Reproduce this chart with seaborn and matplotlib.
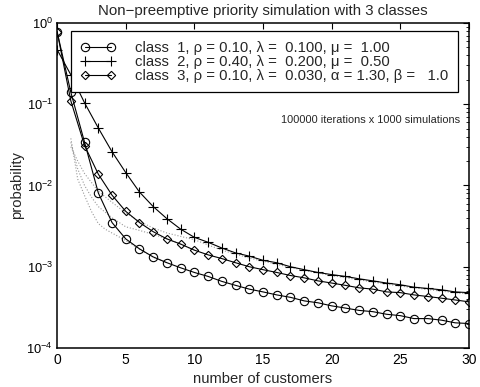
import numpy as np
import pandas as pd
import matplotlib
matplotlib.use("Agg")
import matplotlib.pyplot as plt
import seaborn as sns
from matplotlib.ticker import LogLocator, NullFormatter, FixedLocator

# ---- data ----
n = list(range(0, 31))
class1 = [0.78, 0.14, 0.034, 0.0081, 0.0035, 0.0022, 0.00166, 0.00132, 0.00112, 0.00097,
          0.00085, 0.00076, 0.00066, 0.00059, 0.00053, 0.00049, 0.00045, 0.00042, 0.00038,
          0.00036, 0.00033, 0.00031, 0.00029, 0.00028, 0.00026, 0.00025, 0.00023, 0.00023,
          0.00022, 0.000204, 0.0002]
class2 = [0.47, 0.23, 0.104, 0.051, 0.026, 0.0144, 0.0083, 0.0055, 0.0039, 0.0029,
          0.0023, 0.0020, 0.0017, 0.00148, 0.00135, 0.0012, 0.00112, 0.0010, 0.00092,
          0.00085, 0.00080, 0.00076, 0.00071, 0.00067, 0.00063, 0.00060, 0.00056, 0.00054,
          0.00052, 0.00049, 0.00048]
class3 = [0.78, 0.11, 0.031, 0.0138, 0.0076, 0.0048, 0.0035, 0.0027, 0.0022, 0.0019,
          0.0016, 0.0014, 0.00126, 0.00112, 0.0010, 0.00092, 0.00085, 0.00078, 0.00073,
          0.00067, 0.00063, 0.00059, 0.00055, 0.00053, 0.00049, 0.00048, 0.00045, 0.00043,
          0.00041, 0.00039, 0.00037]

# dotted approximation curves
d1_x = [1, 1.5, 2, 2.5, 3, 3.5, 4, 5, 6, 7, 8]
d1_y = [0.038, 0.012, 0.0075, 0.0048, 0.0034, 0.0029, 0.0026, 0.0021, 0.00164, 0.00131, 0.00112]
d2_x = [1, 1.5, 2, 2.5, 3, 4, 5, 6, 7, 8, 9, 10]
d2_y = [0.034, 0.016, 0.010, 0.0072, 0.0055, 0.0040, 0.0031, 0.0028, 0.0025, 0.0022, 0.0019, 0.0016]
d3_x = [1, 1.5, 2, 3, 4, 5, 6, 7, 8, 10, 12, 14, 16, 18, 20, 22, 24, 26, 28, 30]
d3_y = [0.030, 0.020, 0.014, 0.0085, 0.0062, 0.0046, 0.0036, 0.0030, 0.0026, 0.00215,
        0.0016, 0.00128, 0.00107, 0.00090, 0.00078, 0.00069, 0.00061, 0.00055, 0.00050, 0.00046]

labels = ["class  1, \u03c1 = 0.10, \u03bb =  0.100, \u03bc =  1.00",
          "class  2, \u03c1 = 0.40, \u03bb =  0.200, \u03bc =  0.50",
          "class  3, \u03c1 = 0.10, \u03bb =  0.030, \u03b1 = 1.30, \u03b2 =   1.0"]
title = "Non\u2212preemptive priority simulation with 3 classes"
note = "100000 iterations x 1000 simulations"
xlabel = "number of customers"
ylabel = "probability"
xticks = [0, 5, 10, 15, 20, 25, 30]

sns.set_style("white")
plt.rcParams['font.family'] = ['Liberation Sans', 'DejaVu Sans']
plt.rcParams['mathtext.fontset'] = 'custom'
plt.rcParams['mathtext.rm'] = 'Liberation Sans'

fig = plt.figure(figsize=(4.8, 3.87), dpi=100)
ax = fig.add_axes([0.119, 0.1008, 0.858, 0.8398])

for dx, dy in [(d1_x, d1_y), (d2_x, d2_y), (d3_x, d3_y)]:
    sns.lineplot(x=dx, y=dy, ax=ax, color='0.6', linestyle=':', linewidth=0.8, legend=False)

styles = [('o', 6, 'none'), ('+', 7, 'k'), ((4, 0, 0), 6, 'none')]
handles = []
for vals, (m, ms, fc), lab in zip([class1, class2, class3], styles, labels):
    sns.lineplot(x=n, y=vals, ax=ax, color='k', linewidth=0.8, marker=m, markersize=ms,
                 markerfacecolor=fc, markeredgecolor='k', markeredgewidth=0.8, legend=False)
    handles.append(ax.lines[-1])

ax.set_yscale('log')
ax.set_xlim(0, 30)
ax.set_ylim(1e-4, 1)
ax.xaxis.set_major_locator(FixedLocator(xticks))
ax.yaxis.set_major_locator(LogLocator(base=10, numticks=10))
ax.yaxis.set_minor_locator(LogLocator(base=10, subs=np.arange(2, 10), numticks=20))
ax.yaxis.set_minor_formatter(NullFormatter())
ax.tick_params(which='both', direction='in', top=True, right=True, colors='k')
ax.tick_params(axis='x', labelsize=10)
ax.tick_params(axis='y', labelsize=9.3, pad=3)
ax.tick_params(which='major', length=4, width=0.8)
ax.tick_params(which='minor', length=2, width=0.6)
for s in ax.spines.values():
    s.set_visible(True)
    s.set_color('k')
    s.set_linewidth(1.1)

ax.set_title(title, fontsize=10.8, pad=6)
ax.set_xlabel(xlabel, fontsize=10.6, labelpad=4)
ax.set_ylabel(ylabel, fontsize=10.6)
ax.yaxis.set_label_coords(-0.08, 0.5)

ax.text(0.978, 0.70, note, transform=ax.transAxes, ha='right', va='center', fontsize=7.9)

leg = ax.legend(handles, labels, loc='upper right', bbox_to_anchor=(0.973, 0.975),
                borderaxespad=0, fontsize=10.7, numpoints=2, handlelength=2.35,
                handletextpad=1.28, labelspacing=0.0, fancybox=False, framealpha=1,
                edgecolor='k', borderpad=0.65)
leg.get_frame().set_linewidth(0.9)

fig.savefig("out.png", dpi=100)
